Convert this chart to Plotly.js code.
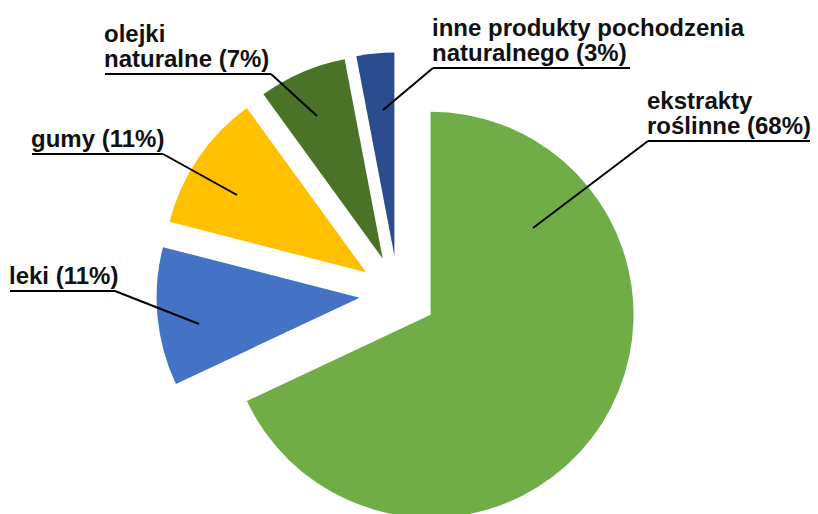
<!DOCTYPE html>
<html>
<head>
<meta charset="utf-8">
<script src="https://cdn.plot.ly/plotly-3.0.1.min.js"></script>
<style>
html, body { margin: 0; padding: 0; background: #fff; overflow: hidden; }
#wrap { width: 818px; height: 514px; overflow: hidden; position: relative; }
#chart { width: 818px; height: 560px; }
</style>
</head>
<body>
<div id="wrap"><div id="chart"></div></div>
<script>
// Data
var categories = ['ekstrakty roślinne', 'leki', 'gumy', 'olejki naturalne', 'inne produkty pochodzenia naturalnego'];
var shares = [68, 11, 11, 7, 3];
var labelTexts = [
  'ekstrakty<br>roślinne (68%)',
  'leki (11%)',
  'gumy (11%)',
  'olejki<br>naturalne (7%)',
  'inne produkty pochodzenia<br>naturalnego (3%)'
];
var colors = ['#70AD47', '#4472C4', '#FFC000', '#4B7328', '#2B4C8F'];

// Layout geometry (pixels in an 818 x 560 canvas)
var W = 818, H = 560;
var pullFrac = 0.19;
var linePitch = 25;
// label placement: text left x, underline y, underline right x, leader end point
var labelPos = [
  {x: 648, uy: 141, ux2: 810, lx: 533, ly: 228, anchorLeft: true},
  {x: 10,  uy: 291, ux2: 115, lx: 199, ly: 324, anchorLeft: false},
  {x: 32,  uy: 154, ux2: 163, lx: 237, ly: 195, anchorLeft: false},
  {x: 105, uy: 74,  ux2: 271, lx: 317, ly: 116, anchorLeft: false},
  {x: 433, uy: 68,  ux2: 630, lx: 383, ly: 110, anchorLeft: true}
];

function px(x) { return x / W; }
function py(y) { return 1 - y / H; }

var annotations = [];
var shapes = [];
labelPos.forEach(function (p, i) {
  var lines = labelTexts[i].split('<br>');
  lines.forEach(function (ln, k) {
    var off = (lines.length - 1 - k) * linePitch;
    annotations.push({
      xref: 'paper', yref: 'paper',
      x: px(p.x - 2), y: py(p.uy - 1 - off),
      xanchor: 'left', yanchor: 'bottom', align: 'left',
      text: '<b>' + ln + '</b>',
      showarrow: false, borderpad: 0,
      font: {family: 'Liberation Sans, Arial, sans-serif', size: 24, color: '#111'}
    });
  });
  var joinX = p.anchorLeft ? p.x : p.ux2;
  shapes.push({
    type: 'line', xref: 'paper', yref: 'paper',
    x0: px(p.x), y0: py(p.uy), x1: px(p.ux2), y1: py(p.uy),
    line: {color: '#000', width: 2}
  });
  shapes.push({
    type: 'line', xref: 'paper', yref: 'paper',
    x0: px(joinX), y0: py(p.uy), x1: px(p.lx), y1: py(p.ly),
    line: {color: '#000', width: 2}
  });
});

var cx = 398, cy = 294, r = 203;
var half = r * (1 + pullFrac);

var trace = {
  type: 'pie',
  labels: categories,
  values: shares,
  sort: false,
  direction: 'clockwise',
  rotation: 0,
  pull: shares.map(function () { return pullFrac; }),
  marker: {colors: colors, line: {width: 0}},
  textinfo: 'none',
  hoverinfo: 'none',
  showlegend: false,
  domain: {
    x: [px(cx - half), px(cx + half)],
    y: [py(cy + half), py(cy - half)]
  }
};

var layout = {
  width: W, height: H,
  margin: {l: 0, r: 0, t: 0, b: 0},
  paper_bgcolor: '#fff',
  plot_bgcolor: '#fff',
  showlegend: false,
  annotations: annotations,
  shapes: shapes
};

Plotly.newPlot('chart', [trace], layout, {displayModeBar: false, staticPlot: true});
</script>
</body>
</html>
